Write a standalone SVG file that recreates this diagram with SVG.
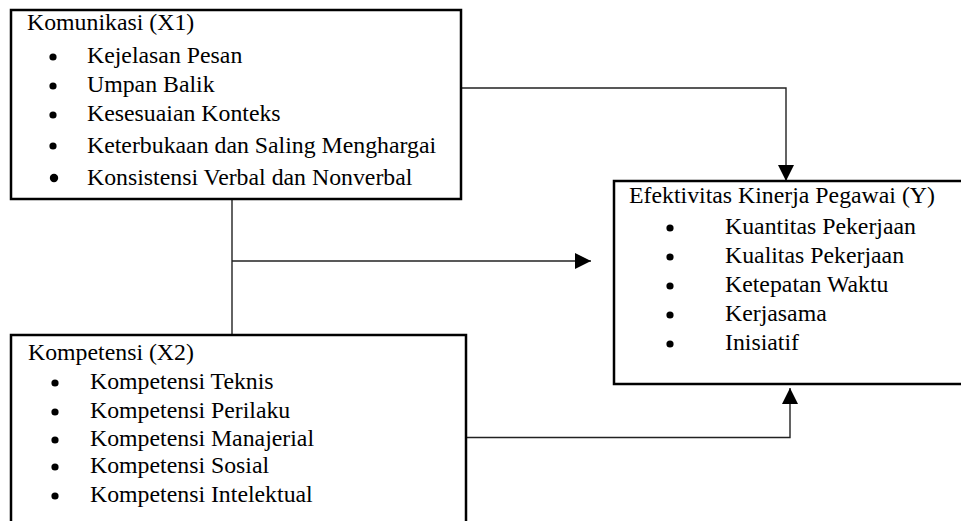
<svg xmlns="http://www.w3.org/2000/svg" width="961" height="521" viewBox="0 0 961 521">
<style>
  .box { fill: #fff; stroke: #000; stroke-width: 2.5; }
  .t { font-family: "Liberation Serif", "Times New Roman", serif; font-size: 23.8px; fill: #000; }
  .b { fill: #000; }
  .c { fill: none; stroke: #222; stroke-width: 1.4; }
</style>
<defs>
  <marker id="arr" viewBox="0 0 16 16" refX="16" refY="8" markerWidth="16" markerHeight="16" markerUnits="userSpaceOnUse" orient="auto">
    <path d="M0,0 L16,8 L0,16 Z" fill="#000"/>
  </marker>
</defs>
<rect width="961" height="521" fill="#fff"/>
<g id="connectors">
  <path class="c" d="M461,88 H786 V181" marker-end="url(#arr)"/>
  <path class="c" d="M232,199 V335"/>
  <path class="c" d="M232,261 H591" marker-end="url(#arr)"/>
  <path class="c" d="M466,437.5 H790 V388" marker-end="url(#arr)"/>
</g>
<g id="x1">
  <rect class="box" x="11" y="10" width="450" height="189"/>
  <text class="t" x="27" y="30">Komunikasi (X1)</text>
  <circle class="b" cx="53" cy="57" r="3.6"/>
  <text class="t" x="87" y="63">Kejelasan Pesan</text>
  <circle class="b" cx="53" cy="86" r="3.6"/>
  <text class="t" x="87" y="92">Umpan Balik</text>
  <circle class="b" cx="53" cy="115" r="3.6"/>
  <text class="t" x="87" y="121">Kesesuaian Konteks</text>
  <circle class="b" cx="53" cy="146" r="3.6"/>
  <text class="t" x="87" y="152.5">Keterbukaan dan Saling Menghargai</text>
  <circle class="b" cx="54" cy="178" r="4.2"/>
  <text class="t" x="87" y="184.5">Konsistensi Verbal dan Nonverbal</text>
</g>
<g id="x2">
  <rect class="box" x="11" y="335" width="455" height="200"/>
  <text class="t" x="28" y="360">Kompetensi (X2)</text>
  <circle class="b" cx="55" cy="383" r="3.6"/>
  <text class="t" x="90" y="389">Kompetensi Teknis</text>
  <circle class="b" cx="55" cy="412" r="3.6"/>
  <text class="t" x="90" y="418">Kompetensi Perilaku</text>
  <circle class="b" cx="55" cy="440" r="3.6"/>
  <text class="t" x="90" y="446">Kompetensi Manajerial</text>
  <circle class="b" cx="55" cy="467" r="3.6"/>
  <text class="t" x="90" y="473">Kompetensi Sosial</text>
  <circle class="b" cx="55" cy="496" r="3.6"/>
  <text class="t" x="90" y="502">Kompetensi Intelektual</text>
</g>
<g id="y">
  <rect class="box" x="614" y="181" width="360" height="203"/>
  <text class="t" x="629" y="203">Efektivitas Kinerja Pegawai (Y)</text>
  <circle class="b" cx="670" cy="228" r="3.6"/>
  <text class="t" x="725" y="234">Kuantitas Pekerjaan</text>
  <circle class="b" cx="670" cy="257" r="3.6"/>
  <text class="t" x="725" y="263">Kualitas Pekerjaan</text>
  <circle class="b" cx="670" cy="286" r="3.6"/>
  <text class="t" x="725" y="292">Ketepatan Waktu</text>
  <circle class="b" cx="670" cy="315" r="3.6"/>
  <text class="t" x="725" y="321">Kerjasama</text>
  <circle class="b" cx="670" cy="344" r="3.6"/>
  <text class="t" x="725" y="350">Inisiatif</text>
</g>
</svg>
